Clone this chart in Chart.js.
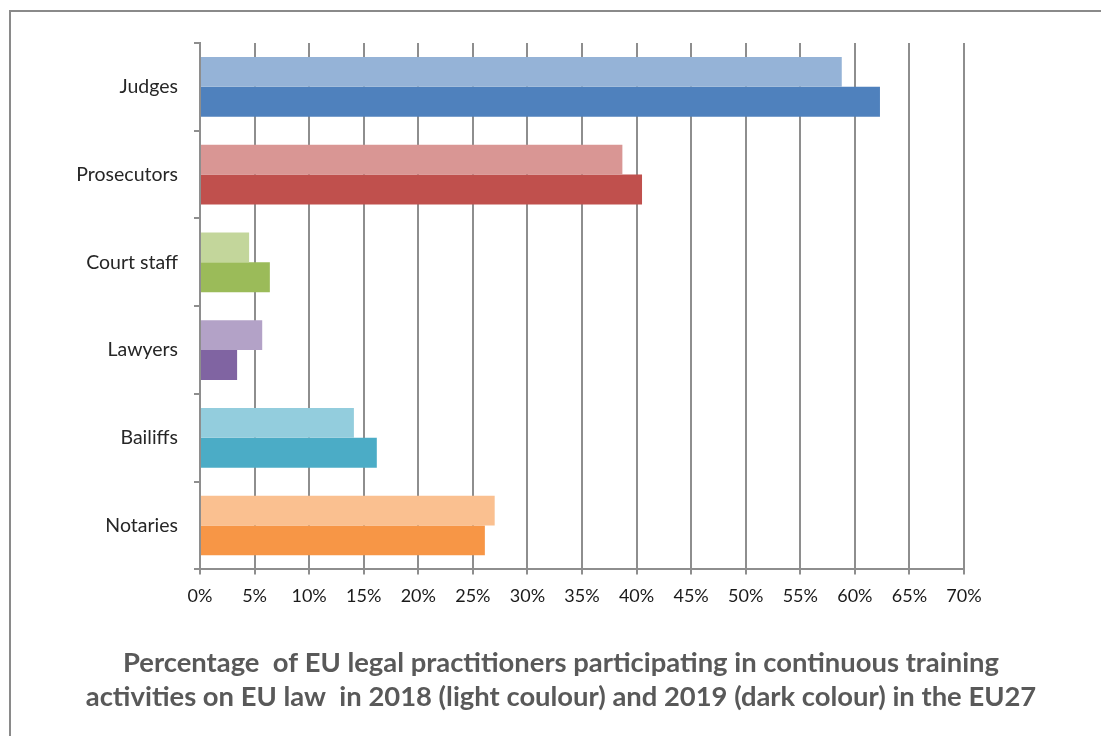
<!DOCTYPE html>
<html>
<head>
<meta charset="utf-8">
<script src="https://cdn.jsdelivr.net/npm/chart.js@4"></script>
<style>
  html, body { margin: 0; padding: 0; background: #fff; }
  #wrap { position: relative; width: 1101px; height: 736px; overflow: hidden; }
  #frame { position: absolute; left: 9px; top: 10px; width: 1200px; height: 800px; border: 2px solid #8a8a8a; box-sizing: border-box; }
  canvas { position: absolute; left: 0; top: 0; }
</style>
</head>
<body>
<div id="wrap">
  <div id="frame"></div>
  <canvas id="chart" width="1101" height="736"></canvas>
</div>
<script>
// Practitioner groups, top to bottom
const categories = ["Judges", "Prosecutors", "Court staff", "Lawyers", "Bailiffs", "Notaries"]

// Share of practitioners trained, in %
const values2018 = [58.8, 38.7, 4.5, 5.7, 14.1, 27.0]
const values2019 = [62.3, 40.5, 6.4, 3.4, 16.2, 26.1]

// Each group has its own hue: light for 2018, dark for 2019
const lightColours = ["#95b3d7", "#d99694", "#c3d69b", "#b3a2c7", "#93cddd", "#fac090"]
const darkColours = ["#4f81bd", "#c0504d", "#9bbb59", "#8064a2", "#4bacc6", "#f79646"]

const xTicks = [0, 5, 10, 15, 20, 25, 30, 35, 40, 45, 50, 55, 60, 65, 70]

const titleLines = [
  "Percentage  of EU legal practitioners participating in continuous training",
  "activities on EU law  in 2018 (light coulour) and 2019 (dark colour) in the EU27",
]

const font = "Lato, 'Open Sans', sans-serif"
const gridColour = "#8e8e8e"

new Chart(document.getElementById("chart"), {
  type: "bar",
  data: {
    labels: categories,
    datasets: [
      {
        label: "2018",
        data: values2018,
        backgroundColor: lightColours,
        categoryPercentage: 0.68,
        barPercentage: 1.0,
      },
      {
        label: "2019",
        data: values2019,
        backgroundColor: darkColours,
        categoryPercentage: 0.68,
        barPercentage: 1.0,
      },
    ],
  },
  options: {
    indexAxis: "y",
    responsive: false,
    animation: false,
    layout: { padding: { left: 21, right: 0, top: 43, bottom: 22 } },
    scales: {
      x: {
        min: 0,
        max: 70,
        afterBuildTicks: (scale) => { scale.ticks = xTicks.map((v) => ({ value: v })) },
        grid: { color: gridColour, lineWidth: 2, tickLength: 5 },
        border: { color: gridColour, width: 2 },
        ticks: {
          padding: 11,
          color: "#1a1a1a",
          font: { family: font, size: 18 },
          callback: (v) => v + "%",
        },
      },
      y: {
        afterFit: (scale) => { scale.width = 179 },
        grid: { drawOnChartArea: false, color: gridColour, lineWidth: 2, tickLength: 6 },
        border: { color: gridColour, width: 2 },
        ticks: {
          padding: 16,
          color: "#262626",
          font: { family: font, size: 19.5 },
        },
      },
      // empty strip on the right so the title centres like the original
      spacer: {
        type: "linear",
        axis: "y",
        position: "right",
        afterFit: (scale) => { scale.width = 137 },
        grid: { display: false },
        border: { display: false },
        ticks: { display: false },
      },
    },
    plugins: {
      legend: { display: false },
      tooltip: { enabled: false },
      title: {
        display: true,
        position: "bottom",
        text: titleLines,
        color: "#595959",
        font: { family: font, size: 27.4, weight: "bold", lineHeight: 34 / 27.4 },
        padding: { top: 28, bottom: 0 },
      },
    },
  },
})
</script>
</body>
</html>
